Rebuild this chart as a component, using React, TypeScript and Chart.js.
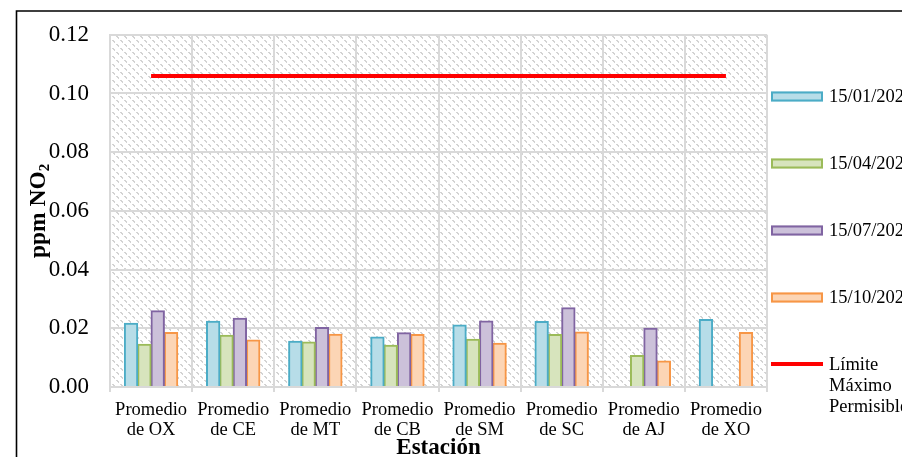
import React, { useEffect, useRef } from 'react';
import { Chart, registerables } from 'chart.js';

Chart.register(...registerables);

const categories = [
  ['Promedio', 'de OX'],
  ['Promedio', 'de CE'],
  ['Promedio', 'de MT'],
  ['Promedio', 'de CB'],
  ['Promedio', 'de SM'],
  ['Promedio', 'de SC'],
  ['Promedio', 'de AJ'],
  ['Promedio', 'de XO'],
];
const seriesLabels = ['15/01/2021', '15/04/2021', '15/07/2021', '15/10/2021'];
const enero = [0.0217, 0.0224, 0.0156, 0.017, 0.0211, 0.0223, null, 0.023];
const abril = [0.0146, 0.0176, 0.0153, 0.0142, 0.0163, 0.0179, 0.0107, null];
const julio = [0.026, 0.0234, 0.0203, 0.0185, 0.0225, 0.027, 0.02, null];
const octubre = [0.0186, 0.016, 0.018, 0.0179, 0.0149, 0.0187, 0.0089, 0.0186];
const limite = [0.106, 0.106, 0.106, 0.106, 0.106, 0.106, 0.106, 0.106];
const limiteLabel = ['Límite', 'Máximo', 'Permisible'];
const yTickMin = 0;
const yTickMax = 0.12;
const yTickStep = 0.02;
const xTitle = 'Estación';

const SERIF = "'Liberation Serif', 'Times New Roman', serif";

function makePattern(ctx: CanvasRenderingContext2D) {
  const c = document.createElement('canvas');
  c.width = 8;
  c.height = 8;
  const t = c.getContext('2d')!;
  t.fillStyle = '#ffffff';
  t.fillRect(0, 0, 8, 8);
  t.fillStyle = '#d3d3d3';
  for (let y = 0; y < 8; y++) {
    for (let x = 0; x < 8; x++) {
      const d = (x - y + 16) % 8;
      const s = (x + y) % 8;
      if ((d === 0 || d === 1) && s < 5) t.fillRect(x, y, 1, 1);
    }
  }
  return ctx.createPattern(c, 'repeat');
}

const decorPlugin = {
  id: 'decor',
  beforeDraw(chart: any) {
    const { ctx, chartArea } = chart;
    const pat = makePattern(ctx);
    ctx.save();
    if (pat) ctx.fillStyle = pat;
    ctx.fillRect(chartArea.left, chartArea.top, chartArea.right - chartArea.left, chartArea.bottom - chartArea.top);
    ctx.restore();
  },
  afterDraw(chart: any) {
    const { ctx, chartArea } = chart;
    ctx.save();
    // outer frame
    ctx.strokeStyle = '#000';
    ctx.lineWidth = 1.6;
    ctx.beginPath();
    ctx.moveTo(16.5, 470);
    ctx.lineTo(16.5, 11);
    ctx.lineTo(920, 11);
    ctx.stroke();

    // y title
    ctx.fillStyle = '#000';
    ctx.save();
    const cy = (chartArea.top + chartArea.bottom) / 2;
    ctx.translate(45, cy);
    ctx.rotate(-Math.PI / 2);
    ctx.font = `bold 23.5px ${SERIF}`;
    const main = 'ppm NO';
    const wMain = ctx.measureText(main).width;
    ctx.font = `bold 15px ${SERIF}`;
    const wSub = ctx.measureText('2').width;
    const total = wMain + wSub;
    ctx.textBaseline = 'alphabetic';
    ctx.textAlign = 'left';
    ctx.font = `bold 23.5px ${SERIF}`;
    ctx.fillText(main, -total / 2, 0);
    ctx.font = `bold 15px ${SERIF}`;
    ctx.fillText('2', -total / 2 + wMain, 4);
    ctx.restore();

    // x title
    ctx.font = `bold 23px ${SERIF}`;
    ctx.textAlign = 'center';
    ctx.textBaseline = 'alphabetic';
    ctx.fillText(xTitle, (chartArea.left + chartArea.right) / 2, 454);

    // legend
    const ds = chart.data.datasets;
    const boxX = 771;
    const textX = 829;
    const centers = [96.5, 163.5, 230.5, 297.5, 364];
    ctx.font = `18.5px ${SERIF}`;
    ctx.textAlign = 'left';
    ctx.textBaseline = 'middle';
    for (let i = 0; i < ds.length; i++) {
      const d = ds[i];
      const c = centers[i];
      if (d.type === 'line') {
        ctx.strokeStyle = d.borderColor;
        ctx.lineWidth = 4;
        ctx.beginPath();
        ctx.moveTo(boxX, c);
        ctx.lineTo(boxX + 52, c);
        ctx.stroke();
        ctx.fillStyle = '#000';
        limiteLabel.forEach((ln, k) => ctx.fillText(ln, textX, c + 1 + k * 21));
      } else {
        ctx.fillStyle = d.backgroundColor;
        ctx.fillRect(boxX, c - 5, 52, 10);
        ctx.strokeStyle = d.borderColor;
        ctx.lineWidth = 2;
        ctx.strokeRect(boxX + 1, c - 4, 50, 8);
        ctx.fillStyle = '#000';
        ctx.fillText(d.label, textX, c + 1);
      }
    }
    ctx.restore();
  },
};

export default function App() {
  const ref = useRef<HTMLCanvasElement>(null);
  useEffect(() => {
    if (!ref.current) return;
    const barStyle = (bg: string, bd: string) => ({
      type: 'bar' as const,
      backgroundColor: bg,
      borderColor: bd,
      borderWidth: 2,
      barPercentage: 1,
      categoryPercentage: 0.65,
      inflateAmount: 0.5,
      order: 1,
    });
    const chart = new Chart(ref.current, {
      type: 'bar',
      data: {
        labels: categories,
        datasets: [
          { ...barStyle('#B7DDE8', '#4BACC6'), label: seriesLabels[0], data: enero },
          { ...barStyle('#D7E4BD', '#9BBB59'), label: seriesLabels[1], data: abril },
          { ...barStyle('#CCC1DA', '#8064A2'), label: seriesLabels[2], data: julio },
          { ...barStyle('#FCD5B5', '#F79646'), label: seriesLabels[3], data: octubre },
          {
            type: 'line' as const,
            label: limiteLabel.join(' '),
            data: limite,
            borderColor: '#FF0000',
            backgroundColor: '#FF0000',
            borderWidth: 4,
            pointRadius: 0,
            fill: false,
            order: 0,
          } as any,
        ],
      },
      options: {
        animation: false,
        responsive: false,
        devicePixelRatio: 1,
        layout: { padding: { left: 0, top: 33, right: 135, bottom: 0 } },
        plugins: { legend: { display: false }, tooltip: { enabled: false }, title: { display: false } },
        scales: {
          x: {
            offset: true,
            grid: { color: '#d9d9d9', lineWidth: 2, offset: true, tickLength: 5, drawTicks: true },
            border: { color: '#d9d9d9', width: 2 },
            ticks: {
              color: '#000',
              font: { family: SERIF, size: 18.5, lineHeight: 1.08 },
              padding: 8,
              maxRotation: 0,
              autoSkip: false,
            },
            afterFit: (s: any) => {
              s.height = 70;
            },
          },
          y: {
            min: yTickMin,
            max: yTickMax,
            grid: { color: '#d9d9d9', lineWidth: 2, drawTicks: false },
            border: { color: '#d9d9d9', width: 2 },
            ticks: {
              stepSize: yTickStep,
              color: '#000',
              font: { family: SERIF, size: 23 },
              padding: 21,
              callback: (v: any) => Number(v).toFixed(2),
            },
            afterFit: (s: any) => {
              s.width = 110;
            },
          },
        },
      },
      plugins: [decorPlugin],
    } as any);
    return () => chart.destroy();
  }, []);
  return (
    <div style={{ position: 'fixed', left: 0, top: 0, width: 902, height: 457 }}>
      <canvas ref={ref} width={902} height={457} style={{ width: 902, height: 457, display: 'block' }} />
    </div>
  );
}
